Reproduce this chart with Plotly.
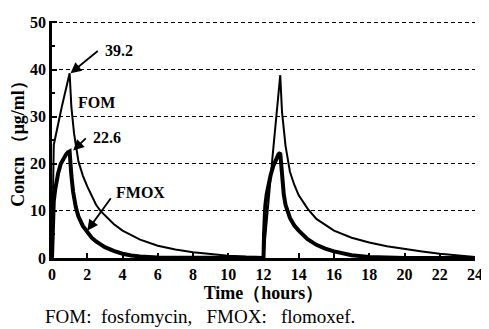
import plotly.graph_objects as go

# Time points (hours) and concentrations (ug/ml)
fom_t = [0, 0.03, 0.06, 0.1, 0.55, 1.0, 1.1, 1.25, 1.5, 1.75, 2.0, 2.5, 2.75, 3.0, 3.5, 4.0, 5.0, 6.0, 7.0, 8.0, 9.0, 10.0, 11.0, 12.0,
         12.5, 12.95, 13.05, 13.25, 13.5, 13.75, 14.0, 14.5, 15.0, 16.0, 17.0, 18.0, 19.0, 20.0, 21.0, 22.0, 23.0, 24.0]
fom_c = [0, 12, 20, 24, 32, 39.2, 32, 26.5, 20.5, 17.5, 15.2, 11.3, 10.0, 9.0, 7.2, 5.8, 3.9, 2.6, 1.8, 1.2, 0.8, 0.5, 0.3, 0.2,
         21, 38.8, 31, 23.8, 18.3, 15.5, 13.3, 10.5, 8.3, 5.8, 4.3, 3.3, 2.5, 1.9, 1.4, 0.9, 0.5, 0.2]

fmox_t = [0, 0.03, 0.06, 0.1, 0.18, 0.25, 0.35, 0.5, 0.65, 0.8, 0.9, 1.0, 1.1, 1.2, 1.35, 1.5, 1.75, 2.0, 2.25, 2.5, 3.0, 3.5, 4.0, 4.5, 5.0, 6.0, 8.0, 12.0,
          12.03, 12.06, 12.1, 12.18, 12.25, 12.4, 12.55, 12.7, 12.85, 12.95, 13.05, 13.15, 13.25, 13.4, 13.5, 13.75, 14.0, 14.5, 15.0, 15.5, 16.0, 17.0, 18.0, 20.0, 24.0]
fmox_c = [0, 6, 9.5, 12, 14.5, 16, 18, 20, 21.2, 22.0, 22.4, 22.6, 17.5, 14.0, 10.8, 8.8, 6.8, 5.4, 4.3, 3.5, 2.3, 1.5, 0.9, 0.55, 0.3, 0.1, 0, 0,
          5, 8.5, 11, 13.5, 15, 17.5, 19.5, 21.0, 22.0, 22.3, 17, 13.5, 11.3, 9.3, 8.5, 6.9, 5.8, 4.0, 2.8, 2.0, 1.4, 0.6, 0.2, 0, 0]

x_ticks = list(range(0, 25, 2))
y_ticks = [0, 10, 20, 30, 40, 50]

serif = "Liberation Serif"

fig = go.Figure()
fig.add_trace(go.Scatter(x=fom_t, y=fom_c, mode="lines", name="FOM",
                         line=dict(color="black", width=2)))
fig.add_trace(go.Scatter(x=fmox_t, y=fmox_c, mode="lines", name="FMOX",
                         line=dict(color="black", width=4)))

# page body has an 8px default margin, so the figure is sized to fit inside the window
fig.update_layout(
    width=481, height=321,
    margin=dict(l=44, r=7, t=6, b=71),
    paper_bgcolor="white", plot_bgcolor="white",
    showlegend=False,
    font=dict(family=serif, color="black"),
)
fig.update_xaxes(
    range=[0, 24], tickvals=x_ticks, ticktext=[str(v) for v in x_ticks],
    ticks="inside", ticklen=5, tickwidth=1.5, tickcolor="black",
    showline=True, linecolor="black", linewidth=2.5,
    showgrid=False, zeroline=False, ticklabeloverflow="allow",
    tickfont=dict(family=serif, size=16, color="black", weight="bold"),
    title=dict(text="Time（hours）", font=dict(family=serif, size=18, color="black", weight="bold"), standoff=2),
)
fig.update_yaxes(
    range=[0, 50.3], tickvals=y_ticks, ticktext=[str(v) for v in y_ticks],
    ticks="inside", ticklen=5, tickwidth=1.5, tickcolor="black",
    minor=dict(dtick=5, ticks="inside", ticklen=3, tickcolor="black", showgrid=False),
    showline=True, linecolor="black", linewidth=2.5,
    showgrid=True, gridcolor="black", gridwidth=1.2, griddash="4px,3px",
    zeroline=False, ticklabeloverflow="allow",
    tickfont=dict(family=serif, size=16, color="black", weight="bold"),
    title=dict(text="Concn （μg/ml）", font=dict(family=serif, size=18, color="black", weight="bold"), standoff=3),
)

ann_font = dict(family=serif, size=16, color="black", weight="bold")
# arrows
for (hx, hy, tx, ty) in [(1.05, 39.2, 2.68, 44.2), (1.2, 22.8, 2.0, 25.7), (2.0, 5.8, 3.4, 13.0)]:
    fig.add_annotation(x=hx, y=hy, ax=tx, ay=ty, xref="x", yref="y", axref="x", ayref="y",
                       text="", showarrow=True, arrowhead=2, arrowsize=1.2, arrowwidth=1.8, arrowcolor="black")
# labels
fig.add_annotation(x=3.8, y=44.0, text="39.2", showarrow=False, font=ann_font)
fig.add_annotation(x=2.5, y=33.0, text="FOM", showarrow=False, font=ann_font)
fig.add_annotation(x=3.1, y=25.5, text="22.6", showarrow=False, font=ann_font)
fig.add_annotation(x=5.0, y=13.8, text="FMOX", showarrow=False, font=ann_font)
# caption
fig.add_annotation(x=-0.021, y=-0.247, xref="paper", yref="paper", xanchor="left", yanchor="middle",
                   text="FOM:  fosfomycin,   FMOX:   flomoxef.", showarrow=False,
                   font=dict(family=serif, size=19, color="black"))

fig.write_html("out.html")
